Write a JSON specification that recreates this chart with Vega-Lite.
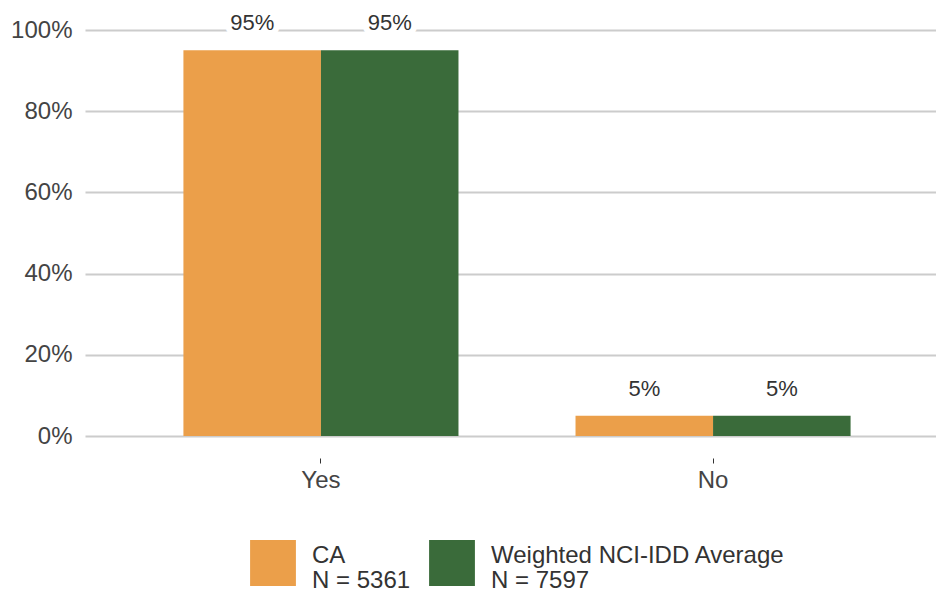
{
  "$schema": "https://vega.github.io/schema/vega-lite/v6.json",
  "width": 851,
  "height": 406,
  "autosize": "none",
  "padding": {"left": 85, "top": 30, "right": 0, "bottom": 157},
  "background": "white",
  "config": {
    "font": "Liberation Sans",
    "view": {"stroke": null},
    "style": {"guide-label": {"lineHeight": 25}}
  },
  "data": {
    "values": [
      {"answer": "Yes", "group": "CA|N = 5361", "value": 0.95},
      {"answer": "Yes", "group": "Weighted NCI-IDD Average|N = 7597", "value": 0.95},
      {"answer": "No", "group": "CA|N = 5361", "value": 0.05},
      {"answer": "No", "group": "Weighted NCI-IDD Average|N = 7597", "value": 0.05}
    ]
  },
  "encoding": {
    "x": {
      "field": "answer",
      "type": "nominal",
      "sort": ["Yes", "No"],
      "scale": {"range": [0, 864], "paddingInner": 0.2985, "paddingOuter": 0.251},
      "axis": {
        "title": null,
        "domain": false,
        "ticks": true,
        "tickSize": 5,
        "tickColor": "#333333",
        "offset": 22,
        "labelPadding": 5,
        "labelFontSize": 24,
        "labelAngle": 0,
        "labelColor": "#444444",
        "grid": false
      }
    },
    "xOffset": {"field": "group", "type": "nominal", "scale": {"paddingInner": 0, "paddingOuter": 0}},
    "y": {
      "field": "value",
      "type": "quantitative",
      "scale": {"domain": [0, 1]},
      "axis": {
        "title": null,
        "values": [0, 0.2, 0.4, 0.6, 0.8, 1],
        "format": ".0%",
        "domain": false,
        "ticks": false,
        "labelFontSize": 24,
        "labelColor": "#444444",
        "labelPadding": 13,
        "gridColor": "#cccccc",
        "gridWidth": 2
      }
    }
  },
  "layer": [
    {
      "mark": {"type": "bar"},
      "encoding": {
        "color": {
          "field": "group",
          "type": "nominal",
          "scale": {"range": ["#EB9F4A", "#3A6B3A"]},
          "legend": {
            "orient": "none",
            "legendX": 165,
            "legendY": 510,
            "direction": "horizontal",
            "title": null,
            "symbolType": "square",
            "symbolSize": 2100,
            "symbolStrokeWidth": 0,
            "symbolOpacity": 1,
            "labelFontSize": 24,
            "labelColor": "#333333",
            "labelOffset": 16,
            "labelBaseline": "alphabetic",
            "columnPadding": 18,
            "labelLimit": 400,
            "padding": 0,
            "labelExpr": "split(datum.label, '|')"
          }
        }
      }
    },
    {
      "mark": {"type": "text", "dy": -20, "baseline": "alphabetic", "fontSize": 22, "stroke": "white", "strokeWidth": 12, "fill": "white"},
      "encoding": {"text": {"field": "value", "type": "quantitative", "format": ".0%"}}
    },
    {
      "mark": {"type": "text", "dy": -20, "baseline": "alphabetic", "fontSize": 22, "fill": "#333333"},
      "encoding": {"text": {"field": "value", "type": "quantitative", "format": ".0%"}}
    }
  ]
}
